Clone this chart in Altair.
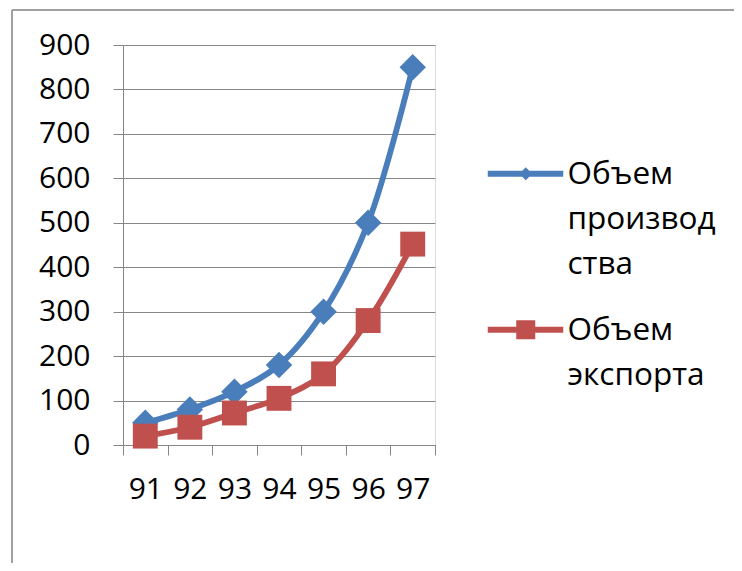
import altair as alt
import pandas as pd

years = ["91", "92", "93", "94", "95", "96", "97"]
production = [50, 80, 120, 180, 300, 500, 850]
export = [20, 40, 72, 105, 160, 280, 452]
series_names = ["Объем производства", "Объем экспорта"]
legend_lines = [["Объем", "производ", "ства"], ["Объем", "экспорта"]]
y_ticks = [0, 100, 200, 300, 400, 500, 600, 700, 800, 900]
colors = ["#4a7ebb", "#c0504d"]

rows = []
for i, yr in enumerate(years):
    rows.append({"year": yr, "series": series_names[0], "value": production[i], "ord": 0})
    rows.append({"year": yr, "series": series_names[1], "value": export[i], "ord": 1})
df = pd.DataFrame(rows)

FONT = "Open Sans"
GRID = "#868686"

x_enc = alt.X(
    "year:O",
    scale=alt.Scale(type="band", paddingInner=0, paddingOuter=0),
    axis=alt.Axis(
        title=None, labelAngle=0, tickBand="extent", grid=False,
        domainColor=GRID, tickColor=GRID, tickSize=10, labelPadding=19,
        labelFont=FONT, labelFontSize=30, labelColor="#000000",
    ),
)
y_enc = alt.Y(
    "value:Q",
    scale=alt.Scale(domain=[0, 900], nice=False),
    axis=alt.Axis(
        title=None, values=y_ticks, gridColor=GRID, gridWidth=1,
        domainColor=GRID, tickColor=GRID, tickSize=10, labelPadding=23,
        labelFont=FONT, labelFontSize=30, labelColor="#000000",
    ),
)
color_scale = alt.Scale(domain=series_names, range=colors)

base = alt.Chart(df)

lines = base.mark_line(interpolate="catmull-rom", strokeWidth=5.8).encode(
    x=x_enc, y=y_enc,
    color=alt.Color("series:N", scale=color_scale, legend=None),
    detail="series:N",
)
points = base.mark_point(filled=True, opacity=1, strokeWidth=0).encode(
    x=x_enc, y=y_enc,
    color=alt.Color("series:N", scale=color_scale, legend=None),
    shape=alt.Shape("series:N", scale=alt.Scale(domain=series_names, range=["diamond", "square"]), legend=None),
    size=alt.Size("series:N", scale=alt.Scale(domain=series_names, range=[700, 620]), legend=None),
    order=alt.Order("ord:Q"),
)
plot = alt.layer(lines, points)

blue_path = "M-4.1,1.2H3.45V1.8H-4.1Z M-0.3,0.85L0.35,1.5L-0.3,2.15L-0.95,1.5Z"
red_path = "M-4.1,1.2H3.45V1.8H-4.1Z M-1.25,0.55H0.65V2.45H-1.25Z"

label_expr = (
    f"datum.label == '{series_names[0]}' ? {legend_lines[0]} : {legend_lines[1]}"
).replace('"', "'")

legend_layer = base.mark_point(filled=True, opacity=1, strokeWidth=0).encode(
    x=x_enc, y=y_enc,
    color=alt.Color(
        "series:N", scale=color_scale,
        legend=alt.Legend(
            title=None, orient="none", legendX=390, legendY=98,
            symbolSize=400, symbolOpacity=1, labelOffset=23,
            labelFont=FONT, labelFontSize=31.5, labelColor="#000000",
            labelLimit=400, labelExpr=label_expr, labelBaseline="top",
            rowPadding=18,
        ),
    ),
    shape=alt.Shape("series:N", scale=alt.Scale(domain=series_names, range=[blue_path, red_path])),
).transform_filter("false")

frame_data = alt.Data(values=[{"k": 1}])
frame_top = alt.Chart(frame_data).mark_rule(color="#a0a0a0", strokeWidth=2).encode(
    x=alt.value(-111), x2=alt.value(619), y=alt.value(-35)
)
frame_left = alt.Chart(frame_data).mark_rule(color="#a0a0a0", strokeWidth=2).encode(
    x=alt.value(-111), y=alt.value(-35), y2=alt.value(526)
)

chart = alt.layer(frame_top, frame_left, plot, legend_layer).resolve_scale(
    color="independent", shape="independent"
).properties(
    width=312, height=400,
    autosize=alt.AutoSizeParams(type="none"),
    padding={"left": 115, "top": 37, "right": 299, "bottom": 118},
).configure_view(stroke=None).configure(
    style={"guide-label": {"lineHeight": 45}}
)

chart.save("out.html", embed_options={"renderer": "svg", "actions": False})
